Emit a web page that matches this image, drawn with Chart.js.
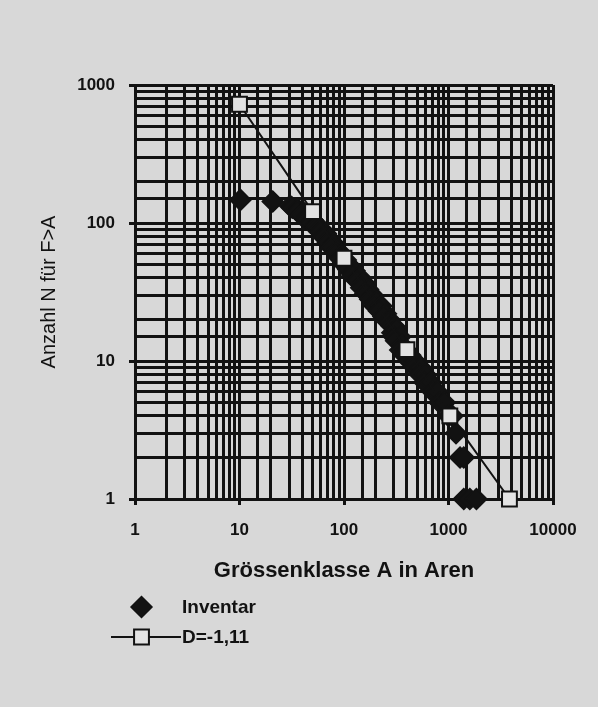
<!DOCTYPE html>
<html>
<head>
<meta charset="utf-8">
<script src="https://cdn.jsdelivr.net/npm/chart.js@4"></script>
<style>
  html, body { margin: 0; padding: 0; background: #d8d8d8; }
  #wrap { position: relative; width: 598px; height: 707px; }
</style>
</head>
<body>
<div id="wrap"><canvas id="fig"></canvas></div>
<script>
// tick labels on the two log axes
const xTickLabels = [1, 10, 100, 1000, 10000];
const yTickLabels = [1, 10, 100, 1000];

// Inventar: Grössenklasse A (Aren) and Anzahl N fuer F>A
const invArea = [10.2, 20.8, 30.5, 32, 36, 36, 41, 39, 45, 44,
  50, 48, 55, 54, 60, 59, 67, 64, 73, 70,
  80, 76, 87, 84, 95, 92, 104, 100, 114, 110,
  126, 120, 140, 133, 155, 146, 170, 160, 188, 178,
  205, 196, 228, 216, 252, 238, 272, 265, 285, 300,
  290, 318, 300, 345, 315, 360, 345, 395, 380, 430,
  420, 480, 470, 540, 530, 600, 590, 680, 700, 780,
  820, 920, 1000, 1090, 1180, 1290, 1400, 1400, 1600, 1850];
const invCount = [147, 143, 133, 129, 126, 121, 119, 114, 112, 107,
  105, 100, 98, 93, 91, 86, 84, 79, 77, 72,
  71, 66, 64, 60, 59, 55, 54, 50, 49, 46,
  45, 42, 41, 38, 37, 34, 33, 31, 30, 28,
  27, 25, 25, 23, 22, 21, 20, 19, 18, 18,
  16, 17, 15, 15, 14, 13, 12, 12, 11, 11,
  10, 10, 9, 9, 8, 8, 7, 7, 6, 6,
  5, 5, 4, 4, 3, 2, 2, 1, 1, 1];

// Gerade D=-1,11
const fitArea = [10, 50, 100, 400, 1030, 3830];
const fitCount = [725, 121, 55.5, 12.1, 4.0, 1.0];

const ink = '#121212';
const fontFam = '"Liberation Sans", Arial, sans-serif';

function isLabel(list, v) {
  return list.some(t => Math.abs(t - v) < 1e-6 * t);
}

// legend below the x title, one row per dataset
const legendRows = {
  id: 'legendRows',
  afterDraw(chart) {
    const ctx = chart.ctx;
    chart.data.datasets.forEach((ds, i) => {
      const y = 607 + i * 30;
      ctx.save();
      if (ds.showLine) {
        ctx.strokeStyle = ds.borderColor;
        ctx.lineWidth = ds.borderWidth;
        ctx.beginPath();
        ctx.moveTo(111, y);
        ctx.lineTo(181, y);
        ctx.stroke();
      }
      ctx.fillStyle = ds.pointBackgroundColor;
      ctx.strokeStyle = ds.pointBorderColor;
      ctx.lineWidth = ds.pointBorderWidth;
      Chart.helpers.drawPoint(ctx, {
        pointStyle: ds.pointStyle, radius: ds.pointRadius,
        borderWidth: ds.pointBorderWidth, rotation: 0
      }, 141.5, y);
      ctx.fillStyle = ink;
      ctx.font = 'bold 19px ' + fontFam;
      ctx.textBaseline = 'middle';
      ctx.textAlign = 'left';
      ctx.fillText(ds.label, 182, y + 1);
      ctx.restore();
    });
  }
};

const ctx = document.getElementById('fig').getContext('2d');
const fig = new Chart(ctx, {
  type: 'scatter',
  data: {
    datasets: [
      {
        label: 'Inventar',
        data: invArea.map((a, i) => ({ x: a, y: invCount[i] })),
        showLine: false,
        pointStyle: 'rectRot',
        pointRadius: 10.5,
        pointBackgroundColor: ink,
        pointBorderColor: ink,
        pointBorderWidth: 1.5,
        order: 1,
        clip: false
      },
      {
        label: 'D=-1,11',
        data: fitArea.map((a, i) => ({ x: a, y: fitCount[i] })),
        showLine: true,
        borderColor: ink,
        borderWidth: 2,
        tension: 0,
        pointStyle: 'rect',
        pointRadius: 10.5,
        pointBackgroundColor: '#e3e3e3',
        pointBorderColor: ink,
        pointBorderWidth: 2,
        order: 0,
        clip: false
      }
    ]
  },
  options: {
    responsive: true,
    maintainAspectRatio: false,
    animation: false,
    layout: { padding: { top: 85, right: 45, bottom: 123, left: 37 } },
    plugins: {
      legend: { display: false },
      tooltip: { enabled: false }
    },
    scales: {
      x: {
        type: 'logarithmic',
        min: 1,
        max: 10000,
        afterFit: s => { s.height = 85; },
        grid: {
          color: ink,
          lineWidth: 3,
          tickLength: 6,
          tickWidth: 3,
          tickColor: c => isLabel(xTickLabels, c.tick.value) ? ink : 'rgba(0,0,0,0)'
        },
        border: { color: ink, width: 3 },
        ticks: {
          autoSkip: false,
          maxRotation: 0,
          padding: 15,
          color: ink,
          font: { family: fontFam, size: 17, weight: 'bold' },
          callback: v => isLabel(xTickLabels, v) ? String(v) : ''
        },
        title: {
          display: true,
          text: 'Grössenklasse A in Aren',
          color: ink,
          padding: 0,
          font: { family: fontFam, size: 22, weight: 'bold' }
        }
      },
      y: {
        type: 'logarithmic',
        min: 1,
        max: 1000,
        afterFit: s => { s.width = 98; },
        grid: {
          color: ink,
          lineWidth: 3,
          tickLength: 6,
          tickWidth: 3,
          tickColor: c => isLabel(yTickLabels, c.tick.value) ? ink : 'rgba(0,0,0,0)'
        },
        border: { color: ink, width: 3 },
        ticks: {
          autoSkip: false,
          padding: 14,
          color: ink,
          font: { family: fontFam, size: 17, weight: 'bold' },
          callback: v => isLabel(yTickLabels, v) ? String(v) : ''
        },
        title: {
          display: true,
          text: 'Anzahl N für F>A',
          color: ink,
          padding: 0,
          font: { family: fontFam, size: 20 }
        }
      }
    }
  },
  plugins: [legendRows]
});
</script>
</body>
</html>
